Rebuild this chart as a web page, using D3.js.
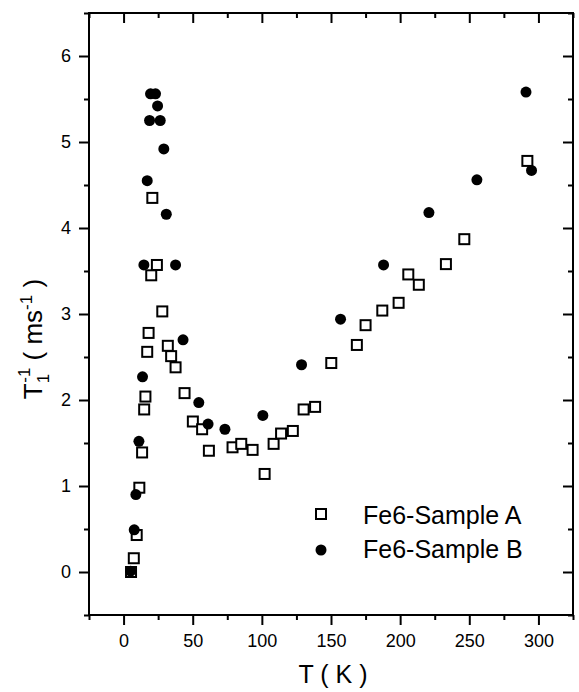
<!DOCTYPE html>
<html>
<head>
<meta charset="utf-8">
<script src="https://cdn.jsdelivr.net/npm/d3@7"></script>
<style>
  body { margin: 0; background: #fff; }
  text { font-family: "Liberation Sans", Arial, sans-serif; fill: #000; }
</style>
</head>
<body>
<div id="chart"></div>
<script>
// Fe6-Sample A (open squares)
const sampleA_T = [5.4, 7.4, 9.5, 11.4, 13.4, 14.9, 15.8, 17.1, 18.1, 20.0, 20.8, 24.1, 28.0,
  32.0, 34.4, 37.6, 44.1, 50.1, 56.8, 61.7, 78.8, 85.1, 93.3, 102, 108.5, 113.9, 122.4,
  130.2, 138.5, 150.2, 168.7, 175, 187.1, 198.9, 205.9, 213.5, 233.1, 246.4, 292];
const sampleA_rate = [0.0, 0.16, 0.43, 0.98, 1.39, 1.89, 2.04, 2.56, 2.78, 3.45, 4.35, 3.57, 3.03,
  2.63, 2.51, 2.38, 2.08, 1.75, 1.66, 1.41, 1.45, 1.49, 1.42, 1.14, 1.49, 1.61, 1.64,
  1.89, 1.92, 2.43, 2.64, 2.87, 3.04, 3.13, 3.46, 3.34, 3.58, 3.87, 4.78];

// Fe6-Sample B (filled circles)
const sampleB_T = [5.1, 7.7, 8.9, 11.1, 13.7, 14.7, 17.1, 18.8, 19.5, 23.1, 24.6, 26.5, 29.1,
  30.9, 37.6, 43.0, 54.4, 61.1, 73.3, 100.7, 128.7, 156.9, 188, 220.8, 255.5, 291, 295];
const sampleB_rate = [0.01, 0.49, 0.90, 1.52, 2.27, 3.57, 4.55, 5.25, 5.56, 5.56, 5.42, 5.25, 4.92,
  4.16, 3.57, 2.70, 1.97, 1.72, 1.66, 1.82, 2.41, 2.94, 3.57, 4.18, 4.56, 5.58, 4.67];

const xTicks = [0, 50, 100, 150, 200, 250, 300];
const xMinorTicks = [-25, 25, 75, 125, 175, 225, 275, 325];
const yTicks = [0, 1, 2, 3, 4, 5, 6];
const yMinorTicks = [-0.5, 0.5, 1.5, 2.5, 3.5, 4.5, 5.5, 6.5];
const legendLabels = ['Fe6-Sample A', 'Fe6-Sample B'];

const width = 579, height = 692;
const margin = {top: 13, right: 6, bottom: 77, left: 89};
const innerW = width - margin.left - margin.right;
const innerH = height - margin.top - margin.bottom;

const svg = d3.select('#chart').append('svg')
  .attr('width', width)
  .attr('height', height);

const chart = svg.append('g')
  .attr('transform', `translate(${margin.left},${margin.top})`);

const x = d3.scaleLinear().domain([-25, 325]).range([0, innerW]);
const y = d3.scaleLinear().domain([-0.5, 6.5]).range([innerH, 0]);

function styleAxis(g) {
  g.select('.domain').remove();
  g.selectAll('.tick line').attr('stroke', '#000').attr('stroke-width', 2);
  g.selectAll('.tick text').style('font-size', '18px').attr('fill', '#000');
}

// bottom: ticks outward with labels
chart.append('g')
  .attr('transform', `translate(0,${innerH})`)
  .call(d3.axisBottom(x).tickValues(xTicks).tickSize(10).tickPadding(9).tickFormat(d3.format('d')))
  .call(styleAxis);
chart.append('g')
  .attr('transform', `translate(0,${innerH})`)
  .call(d3.axisBottom(x).tickValues(xMinorTicks).tickSize(5).tickFormat(''))
  .call(styleAxis);

// top: ticks inward
chart.append('g')
  .call(d3.axisTop(x).tickValues(xTicks).tickSize(-10).tickFormat(''))
  .call(styleAxis);
chart.append('g')
  .call(d3.axisTop(x).tickValues(xMinorTicks).tickSize(-5).tickFormat(''))
  .call(styleAxis);

// left: ticks outward with labels
chart.append('g')
  .call(d3.axisLeft(y).tickValues(yTicks).tickSize(10).tickPadding(8).tickFormat(d3.format('d')))
  .call(styleAxis);
chart.append('g')
  .call(d3.axisLeft(y).tickValues(yMinorTicks).tickSize(5).tickFormat(''))
  .call(styleAxis);

// right: ticks inward
chart.append('g')
  .attr('transform', `translate(${innerW},0)`)
  .call(d3.axisRight(y).tickValues(yTicks).tickSize(-10).tickFormat(''))
  .call(styleAxis);
chart.append('g')
  .attr('transform', `translate(${innerW},0)`)
  .call(d3.axisRight(y).tickValues(yMinorTicks).tickSize(-5).tickFormat(''))
  .call(styleAxis);

// frame
chart.append('rect')
  .attr('width', innerW)
  .attr('height', innerH)
  .attr('fill', 'none')
  .attr('stroke', '#000')
  .attr('stroke-width', 2);

const sq = 10;
const dataA = sampleA_T.map((t, i) => ({t: t, v: sampleA_rate[i]}));
const dataB = sampleB_T.map((t, i) => ({t: t, v: sampleB_rate[i]}));

chart.append('g').selectAll('rect')
  .data(dataA)
  .join('rect')
  .attr('x', d => x(d.t) - sq / 2)
  .attr('y', d => y(d.v) - sq / 2)
  .attr('width', sq)
  .attr('height', sq)
  .attr('fill', '#fff')
  .attr('stroke', '#000')
  .attr('stroke-width', 2);

chart.append('g').selectAll('circle')
  .data(dataB)
  .join('circle')
  .attr('cx', d => x(d.t))
  .attr('cy', d => y(d.v))
  .attr('r', 5.5)
  .attr('fill', '#000');

// legend
const legend = svg.append('g').attr('transform', 'translate(321,514)');
legend.append('rect')
  .attr('x', -sq / 2).attr('y', -sq / 2)
  .attr('width', sq).attr('height', sq)
  .attr('fill', '#fff').attr('stroke', '#000').attr('stroke-width', 2);
legend.append('circle')
  .attr('cy', 36).attr('r', 5.5).attr('fill', '#000');
legend.selectAll('text')
  .data(legendLabels)
  .join('text')
  .attr('x', 42)
  .attr('y', (d, i) => 10 + i * 34)
  .style('font-size', '25px')
  .text(d => d);

// axis titles
svg.append('text')
  .attr('x', margin.left + x(150) + 2)
  .attr('y', 683)
  .attr('text-anchor', 'middle')
  .style('font-size', '25px')
  .text('T ( K )');

const yTitle = svg.append('text')
  .attr('transform', 'translate(42,339) rotate(-90)')
  .attr('text-anchor', 'middle')
  .style('font-size', '26px');
yTitle.append('tspan').text('T');
yTitle.append('tspan').attr('dy', 7).style('font-size', '17px').text('1');
yTitle.append('tspan').attr('dx', -9).attr('dy', -19).style('font-size', '17px').text('-1');
yTitle.append('tspan').attr('dy', 12).text(' ( ms');
yTitle.append('tspan').attr('dy', -10).style('font-size', '17px').text('-1');
yTitle.append('tspan').attr('dy', 10).text(' )');
</script>
</body>
</html>
